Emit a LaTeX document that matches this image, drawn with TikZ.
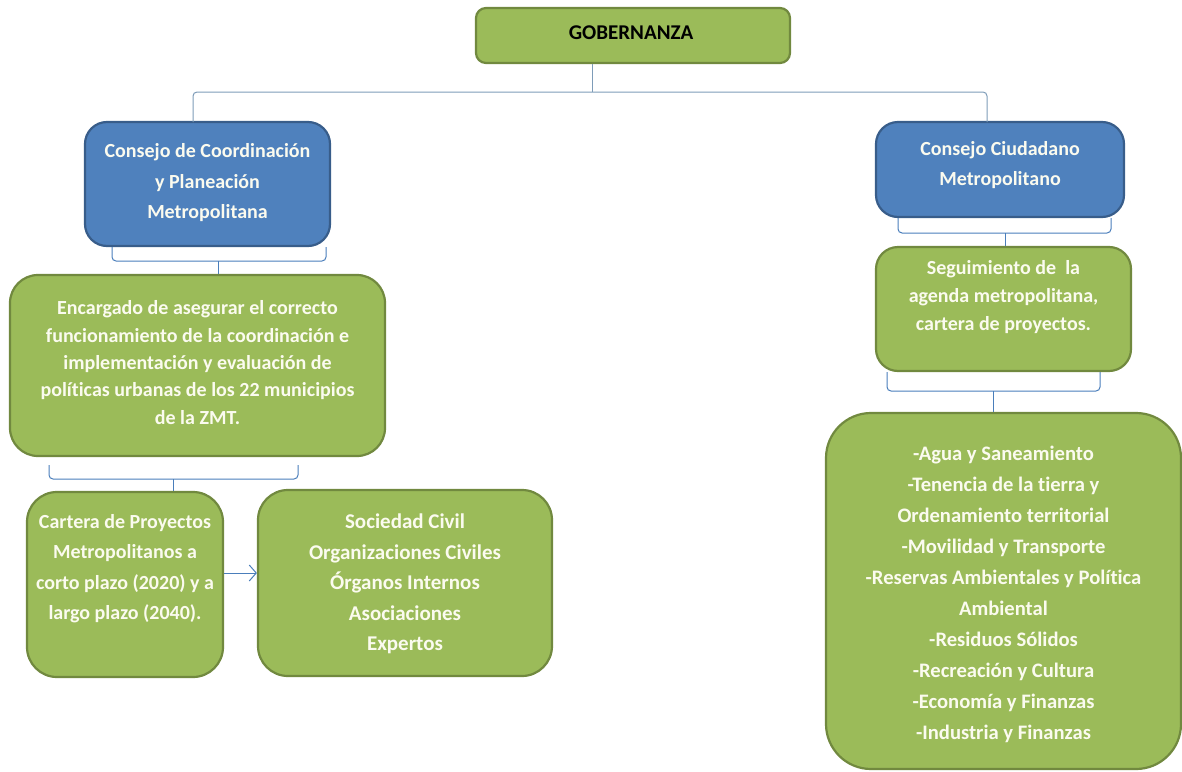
\documentclass[tikz,border=0pt]{standalone}
\usepackage{fontspec}
\setmainfont{Carlito}[Ligatures=NoCommon]
\usetikzlibrary{arrows.meta}
\definecolor{gfill}{HTML}{9BBB59}
\definecolor{gdraw}{HTML}{71893F}
\definecolor{bfill}{HTML}{4F81BD}
\definecolor{bdraw}{HTML}{385D8A}
\definecolor{conn}{HTML}{4A7EBB}
\definecolor{topconn}{HTML}{7E9CB8}
\definecolor{ltext}{HTML}{FBFBEF}
\tikzset{
  gbox/.style={draw=gdraw, fill=gfill, line width=2.2pt, rounded corners=22pt, inner sep=0pt},
  bbox/.style={draw=bdraw, fill=bfill, line width=2.2pt, rounded corners=22pt, inner sep=0pt},
  txt/.style={text=ltext, font=\bfseries\fontsize{20}{30.5}\selectfont, align=center, inner sep=0pt},
  link/.style={draw=conn, line width=1pt, rounded corners=4pt},
}
\begin{document}
\begin{tikzpicture}[x=1pt,y=-1pt]
\useasboundingbox (0,0) rectangle (1182,771);
% boxes
\node[gbox, minimum width=314, minimum height=55, rounded corners=10pt] (gob) at (633,35.5) {};
\node[txt, text=black, font=\bfseries\fontsize{21}{24}\selectfont] (gobT) at (631,33) {GOBERNANZA};

\node[bbox, minimum width=245, minimum height=124] (ccp) at (207.5,184) {};
\node[txt] (ccpT) at (207.5,183) {Consejo de Coordinación\\y Planeación\\Metropolitana};

\node[bbox, minimum width=248, minimum height=95] (ccm) at (1000,169.5) {};
\node[txt] (ccmT) at (1000,165) {Consejo Ciudadano\\Metropolitano};

\node[gbox, minimum width=375, minimum height=181, rounded corners=28pt] (enc) at (197.5,365.5) {};
\node[txt, font=\bfseries\fontsize{20}{27.3}\selectfont] (encT) at (197.5,362.5) {Encargado de asegurar el correcto\\funcionamiento de la coordinación e\\implementación y evaluación de\\políticas urbanas de los 22 municipios\\de la ZMT.};

\node[gbox, minimum width=255, minimum height=124] (seg) at (1003.5,309) {};
\node[txt, font=\bfseries\fontsize{20}{28}\selectfont] (segT) at (1003.5,297) {Seguimiento de\ \ la\\agenda metropolitana,\\cartera de proyectos.};

\node[gbox, minimum width=196, minimum height=185, rounded corners=30pt] (car) at (125,584.5) {};
\node[txt] (carT) at (125,568.5) {Cartera de Proyectos\\Metropolitanos a\\corto plazo (2020) y a\\largo plazo (2040).};

\node[gbox, minimum width=294, minimum height=186, rounded corners=30pt] (soc) at (405,583) {};
\node[txt, font=\bfseries\fontsize{21}{30.5}\selectfont] (socT) at (405,584) {Sociedad Civil\\Organizaciones Civiles\\Órganos Internos\\Asociaciones\\Expertos};

\node[gbox, minimum width=355, minimum height=356, rounded corners=45pt] (tem) at (1003.5,591) {};
\node[txt, font=\bfseries\fontsize{20.6}{31}\selectfont] (temT) at (1003.5,594.5) {-Agua y Saneamiento\\-Tenencia de la tierra y\\Ordenamiento territorial\\-Movilidad y Transporte\\-Reservas Ambientales y Política\\Ambiental\\-Residuos Sólidos\\-Recreación y Cultura\\-Economía y Finanzas\\-Industria y Finanzas};

% connectors
\coordinate (t1) at (592,92);
\draw[link, draw=topconn] (gob.south -| t1) -- (t1);
\draw[link, draw=topconn] (193,122) |- (t1) -| (987,122);

\coordinate (b1) at (218,261);
\draw[link] (112,247) |- (b1) -| (326,247);
\draw[link] (b1) -- (enc.north -| b1);

\coordinate (b2) at (1005,233);
\draw[link] (898,218) |- (b2) -| (1111,218);
\draw[link] (b2) -- (seg.north -| b2);

\coordinate (b3) at (993,391);
\draw[link] (887,372) |- (b3) -| (1100,372);
\draw[link] (b3) -- (tem.north -| b3);

\coordinate (b4) at (173,479);
\draw[link] (49,465) |- (b4) -| (298,465);
\draw[link] (b4) -- (car.north -| b4);

\draw[draw=conn, line width=1pt, -{Straight Barb[length=7pt,width=16pt]}] (car.east |- 0,573) -- (soc.west |- 0,573);
\end{tikzpicture}
\end{document}
